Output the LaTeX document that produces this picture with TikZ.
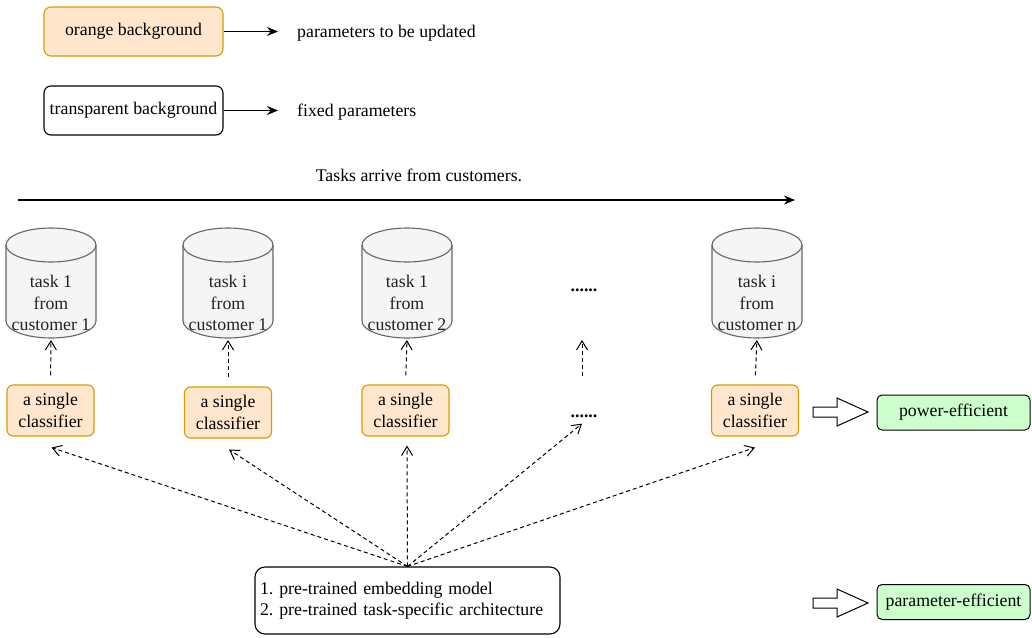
\documentclass[tikz,border=0pt]{standalone}
\usepackage{fontspec}
\setmainfont{Liberation Serif}
\frenchspacing
\usetikzlibrary{arrows.meta,calc}
\definecolor{orfill}{HTML}{FFE6CC}
\definecolor{ordraw}{HTML}{D79B00}
\definecolor{grfill}{HTML}{CCFFCC}
\definecolor{cyfill}{HTML}{F5F5F5}
\definecolor{cydraw}{HTML}{666666}
\definecolor{cytext}{HTML}{222222}
\tikzset{
  every node/.style={font=\rmfamily\fontsize{17.8}{21.5}\selectfont},
  orangebox/.style={draw=ordraw,fill=orfill,rounded corners=7pt,line width=1.1pt,inner sep=0pt},
  plainbox/.style={draw=black,rounded corners=7pt,line width=1.1pt,inner sep=0pt},
  cls/.style={orangebox,minimum width=87pt,minimum height=51pt,align=center,rounded corners=6pt},
  greenbox/.style={draw=black,fill=grfill,rounded corners=5pt,line width=1pt,minimum width=153pt,minimum height=35pt,inner sep=0pt},
  solidarrow/.style={-{Stealth[length=11pt,width=9pt]},line width=1.1pt},
  dasharrow/.style={-{Straight Barb[length=9pt,width=11pt,line width=1pt]},line width=1pt,dash pattern=on 4pt off 3pt},
  blockarrow/.style={draw=black,fill=white,line width=1pt,line join=miter},
  cyltext/.style={align=center,text=cytext,inner sep=0pt},
}
\newcommand{\mycyl}[2]{%
  \fill[cyfill] (#1-45,245) rectangle (#1+45,321);
  \fill[cyfill] (#1,245) ellipse[x radius=45,y radius=17];
  \fill[cyfill] (#1,321) ellipse[x radius=45,y radius=17];
  \draw[cydraw,line width=1.1pt] (#1-45,245) -- (#1-45,321) arc[start angle=180,end angle=0,x radius=45,y radius=17] -- (#1+45,245);
  \draw[cydraw,line width=1.1pt] (#1,245) ellipse[x radius=45,y radius=17];
}
\begin{document}
\begin{tikzpicture}[x=1pt,y=-1pt]
\useasboundingbox (0,0) rectangle (1032,637);
% legend
\node[orangebox,minimum width=179pt,minimum height=49pt] (ob) at (133.5,31.5) {orange background};
\node[anchor=west,inner sep=0pt] (l1) at (297,33) {parameters to be updated};
\draw[solidarrow,shorten >=19pt] (ob.east) -- (ob.east -| l1.west);
\node[plainbox,minimum width=179pt,minimum height=49pt] (tb) at (133.5,110.5) {transparent background};
\node[anchor=west,inner sep=0pt] (l2) at (297,112) {fixed parameters};
\draw[solidarrow,shorten >=19pt] (tb.east) -- (tb.east -| l2.west);
% time arrow
\node[inner sep=0pt] (tasks) at (419,175) {Tasks arrive from customers.};
\coordinate (ts) at (18,200);
\coordinate (te) at (795,200);
\draw[solidarrow] (ts) -- (te);
% cylinders
\mycyl{51}{}
\mycyl{228}{}
\mycyl{407}{}
\mycyl{757}{}
\node[cyltext] (c1) at (51,303) {task 1\\from\\customer 1};
\node[cyltext] (c2) at (228,303) {task i\\from\\customer 1};
\node[cyltext] (c3) at (407,303) {task 1\\from\\customer 2};
\node[cyltext] (c4) at (757,303) {task i\\from\\customer n};
\coordinate (b1) at (51,338);
\coordinate (b2) at (228,338);
\coordinate (b3) at (407,338);
\coordinate (b4) at (757,338);
\node[inner sep=0pt] (d1) at (584,290) {\textbf{......}};
\coordinate (bd) at (582,338);
% classifiers
\node[cls] (k1) at (50.5,410.5) {a single\\classifier};
\node[cls] (k2) at (228,412.5) {a single\\classifier};
\node[cls] (k3) at (405.5,410.5) {a single\\classifier};
\node[cls] (k4) at (755,410.5) {a single\\classifier};
\node[inner sep=0pt] (d2) at (584,416) {\textbf{......}};
\coordinate (kd) at (582,385);
% vertical dashed arrows
\draw[dasharrow,shorten <=9pt,shorten >=2pt] (k1.north) -- (b1);
\draw[dasharrow,shorten <=9pt,shorten >=2pt] (k2.north) -- (b2);
\draw[dasharrow,shorten <=9pt,shorten >=2pt] (k3.north) -- (b3);
\draw[dasharrow,shorten <=9pt,shorten >=2pt] (kd) -- (bd);
\draw[dasharrow,shorten <=9pt,shorten >=2pt] (k4.north) -- (b4);
% bottom box
\node[plainbox,minimum width=305pt,minimum height=67pt,align=left,text width=295pt,rounded corners=10pt] (pre) at (407.5,600.5) {1. pre-trained embedding model\\2. pre-trained task-specific architecture};
\draw[dasharrow] (pre.north) -- ($(k1.south)+(1,11)$);
\draw[dasharrow] (pre.north) -- ($(k2.south)+(1,11)$);
\draw[dasharrow] (pre.north) -- ($(k3.south)+(1.5,9)$);
\draw[dasharrow] (pre.north) -- ($(d2.south)+(-2,6)$);
\draw[dasharrow] (pre.north) -- ($(k4.south)+(0,11)$);
% efficiency
\node[greenbox] (pe) at (953.5,412.5) {power-efficient};
\node[greenbox] (pa) at (953.5,602) {parameter-efficient};
\draw[blockarrow] (813,407) -- (837,407) -- (837,398) -- (868,412) -- (837,426) -- (837,417) -- (813,417) -- cycle;
\draw[blockarrow] (813,598) -- (837,598) -- (837,589) -- (868,603) -- (837,617) -- (837,608) -- (813,608) -- cycle;
\end{tikzpicture}
\end{document}
